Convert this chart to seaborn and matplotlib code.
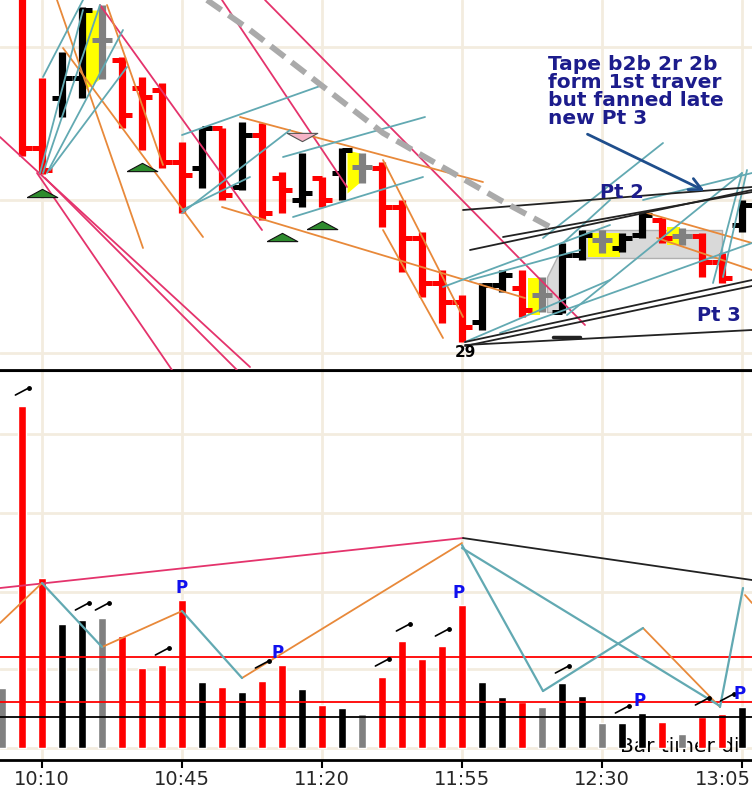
import numpy as np
import pandas as pd
import seaborn as sns
import matplotlib.pyplot as plt
from matplotlib.transforms import ScaledTranslation

# 5-minute bars, slot 0 = 10:00
slots = np.arange(38)
bar_colour = ['gray', 'red', 'red', 'black', 'black', 'gray', 'red', 'red', 'red', 'red',
              'black', 'red', 'black', 'red', 'red', 'black', 'red', 'black', 'gray', 'red',
              'red', 'red', 'red', 'red', 'black', 'black', 'red', 'gray', 'black', 'black',
              'gray', 'black', 'black', 'red', 'gray', 'red', 'red', 'black']

# price in ticks
high = [430, 410, 292, 318, 363, 365, 313, 293, 287, 228, 242, 242, 248, 247, 198, 217, 193, 222, 217, 208,
        170, 138, 100, 75, 87, 100, 100, 93, 127, 140, 140, 137, 158, 152, 142, 137, 117, 170]
low = [380, 214, 196, 253, 272, 291, 242, 220, 202, 157, 182, 170, 180, 150, 157, 163, 163, 170, 187, 143,
       98, 73, 47, 28, 40, 78, 53, 58, 57, 110, 117, 118, 132, 127, 125, 93, 87, 138]
opens = [405, 400, 222, 272, 292, 330, 310, 282, 280, 208, 202, 242, 183, 235, 192, 170, 192, 197, 203, 202,
         163, 132, 87, 68, 48, 85, 82, 75, 58, 115, 130, 122, 135, 150, 134, 134, 108, 145]
closes = [405, 222, 200, 292, 360, 330, 255, 273, 208, 195, 242, 175, 235, 157, 180, 177, 170, 220, 203, 163,
          132, 87, 68, 43, 85, 95, 60, 75, 115, 135, 130, 132, 155, 132, 134, 108, 92, 165]

volume = [60, 342, 170, 124, 128, 130, 112, 80, 83, 148, 66, 61, 56, 67, 83, 59, 43, 40, 34, 71,
          107, 89, 102, 143, 66, 51, 46, 41, 65, 52, 25, 25, 35, 26, 14, 31, 34, 41]

time_ticks = [2, 9, 16, 23, 30, 37]
time_labels = ['10:10', '10:45', '11:20', '11:55', '12:30', '13:05']
price_grid = [17, 170, 323]
volume_grid = [0, 79, 156, 235, 314]

# trendlines on price panel: (slot0, price0, slot1, price1)
pink_lines = [(-0.1, 233, 12.4, 3), (1.75, 197, 8.5, 0), (2.15, 192, 11.75, 0),
              (4.9, 365, 13, 140), (11, 370, 17.25, 183), (13.15, 370, 29.15, 45)]
orange_lines = [(2.75, 370, 7.05, 122), (3.05, 322, 10.05, 133), (5.25, 365, 8.05, 205),
                (11.9, 253, 24.05, 188), (11, 163, 26.15, 72), (19.05, 210, 23.05, 53),
                (19.05, 140, 22.05, 32), (32.25, 157, 37.5, 127), (32.75, 132, 37.5, 100)]
teal_lines = [(1.9, 197, 4.05, 360), (2.05, 197, 4.9, 365), (2.25, 197, 6.05, 340), (2.4, 200, 6.25, 303),
              (2.05, 293, 4.05, 370), (9, 235, 16.05, 285), (9, 157, 14.4, 240), (9, 160, 12.4, 193),
              (14.05, 213, 21.15, 253), (14.55, 153, 21.05, 193), (22.05, 83, 30.4, 145),
              (23.15, 28, 30.4, 90), (23.4, 90, 28.9, 120), (27.05, 132, 33.05, 227),
              (28.25, 55, 37, 197), (24.9, 37, 37.5, 127), (35.55, 87, 37, 197), (36.05, 93, 37.25, 200),
              (28.05, 127, 30.4, 170), (32.05, 170, 37.5, 197)]
black_lines = [(23.05, 160, 37.5, 183), (23.4, 120, 37.5, 180), (25.05, 133, 37.5, 178),
               (23.15, 28, 37.5, 90), (23.15, 24, 37.5, 84), (23.15, 25, 37.5, 40)]
dash_slot = [10.25, 12.4, 19.05, 24.9, 27.5]
dash_price = [370, 340, 237, 170, 142]

# shaded zones: (slot0, slot1, low0, low1, high0, high1)
yellow_zones = [(4.1, 4.95, 280, 292, 360, 360), (17.25, 17.9, 177, 188, 220, 217),
                (26.3, 26.9, 55, 55, 92, 92), (29.3, 30.9, 113, 113, 137, 137),
                (33.25, 33.9, 125, 125, 143, 143)]
gray_zones = [(27.25, 28.05, 58, 58, 93, 125), (29, 36, 112, 112, 140, 140)]

green_marks_slot = [2, 7, 14, 16]
green_marks_price = [177, 203, 133, 145]
pink_mark_slot = [15]
pink_mark_price = [233]

# volume panel zigzags
vol_pink = ([-0.1, 23.05], [160, 210])
vol_black = ([23.05, 37.5], [210, 168])
vol_orange = [(-0.1, 125, 2, 165), (5, 101, 9, 137), (12, 70, 23, 205),
              (32.05, 120, 35.9, 41), (37.15, 153, 37.5, 145)]
vol_teal = [(2, 165, 5, 101), (9, 137, 12, 70), (23, 203, 27.05, 57), (27.05, 57, 32.05, 120),
            (23, 200, 35.9, 42), (35.9, 41, 37.05, 160)]
red_levels = [91, 46]
black_levels = [31]
tick_slot = [1, 4, 5, 8, 13, 19, 20.05, 22, 28, 31, 35, 36.25]
tick_vol = [356, 141, 141, 96, 83, 85, 120, 115, 78, 38, 46, 50]
p_slot = [9, 13.8, 22.85, 31.9, 36.9]
p_vol = [160, 95, 155, 47, 54]

colour_map = {'red': '#ff0000', 'black': '#000000', 'gray': '#808080'}
PINK, ORANGE, TEAL = '#e4336c', '#e8893a', '#62a9b2'
GRID = '#f3ecdf'
NAVY = '#1c1c8c'

sns.set_theme(style='white')
plt.rcParams['font.family'] = ['DejaVu Sans']

fig = plt.figure(figsize=(7.52, 7.93), dpi=100)
ax1 = fig.add_axes([0, 0.5334, 1, 0.4666])
ax2 = fig.add_axes([0, 0.0416, 1, 0.4905])

# ---------- price panel ----------
for ax in (ax1, ax2):
    for t in time_ticks:
        ax.axvline(t, color=GRID, lw=2, zorder=0)
for g in price_grid:
    ax1.axhline(g, color=GRID, lw=2, zorder=0)

for s0, s1, l0, l1, h0, h1 in gray_zones:
    ax1.fill_between([s0, s1], [l0, l1], [h0, h1], color='#d9d9d9', ec='#b0b0b0', lw=1, zorder=1)
for s0, s1, l0, l1, h0, h1 in yellow_zones:
    ax1.fill_between([s0, s1], [l0, l1], [h0, h1], color='#ffff00', lw=0, zorder=1)

cols = [colour_map[c] for c in bar_colour]
ax1.vlines(slots, low, high, colors=cols, lw=5.2, zorder=2)
ax1.hlines(opens, slots - 0.5, slots, colors=cols, lw=3.6, zorder=2)
ax1.hlines(closes, slots, slots + 0.5, colors=cols, lw=3.6, zorder=2)

for group, colour in [(pink_lines, PINK), (orange_lines, ORANGE), (teal_lines, TEAL), (black_lines, '#222222')]:
    for s0, p0, s1, p1 in group:
        sns.lineplot(x=[s0, s1], y=[p0, p1], color=colour, lw=1.3, ax=ax1, zorder=3, sort=False)
ax1.plot([27.55, 28.9], [33, 33], color='#222222', lw=2.5, zorder=3)
ax1.plot(dash_slot, dash_price, color='#aaaaaa', lw=4.2, ls=(0, (3, 1.5)), zorder=3)

up_tri = [(-1, -0.27), (1, -0.27), (0, 0.27), (-1, -0.27)]
down_tri = [(-1, 0.27), (1, 0.27), (0, -0.27), (-1, 0.27)]
ax1.plot(green_marks_slot, green_marks_price, ls='none', marker=up_tri, ms=22,
         mfc='#2e8b2e', mec='#111111', mew=0.8, zorder=4)
ax1.plot(pink_mark_slot, pink_mark_price, ls='none', marker=down_tri, ms=22,
         mfc='#f6b3c6', mec='#555555', mew=0.8, zorder=4)

ax1.text(27.3, 315, 'Tape b2b 2r 2b\nform 1st traver\nbut fanned late\nnew Pt 3', ha='left', va='top',
         fontsize=14.5, fontweight='bold', color=NAVY, linespacing=0.93, zorder=5)
ax1.annotate('', xy=(35.25, 178), xytext=(29.15, 237),
             arrowprops=dict(arrowstyle='->', color='#1f4e8c', lw=2, mutation_scale=22), zorder=5)
ax1.text(29.9, 178, 'Pt 2', ha='left', va='center', fontsize=14, fontweight='bold', color=NAVY, zorder=5)
ax1.text(34.75, 55, 'Pt 3', ha='left', va='center', fontsize=14, fontweight='bold', color=NAVY, zorder=5)
ax1.text(23.15, 18, '29', ha='center', va='center', fontsize=11, fontweight='bold', color='black', zorder=5)

ax1.set_xlim(-0.1, 37.5)
ax1.set_ylim(0, 370)
ax1.set_xticks([])
ax1.set_yticks([])
for side in ['top', 'left', 'right']:
    ax1.spines[side].set_visible(False)
ax1.spines['bottom'].set_color('black')
ax1.spines['bottom'].set_linewidth(2)

# ---------- volume panel ----------
for g in volume_grid:
    ax2.axhline(g, color=GRID, lw=2, zorder=0)

vol_df = pd.DataFrame({'slot': slots, 'volume': volume, 'colour': bar_colour})
sns.barplot(data=vol_df, x='slot', y='volume', hue='colour', palette=colour_map, native_scale=True,
            width=0.36, dodge=False, saturation=1, legend=False, ax=ax2, zorder=2)

ax2.text(30.9, 2, 'Bar timer di', ha='left', va='center', fontsize=14.5, color='black', zorder=1)

for lv in red_levels:
    ax2.axhline(lv, color='#ff0000', lw=1.3, zorder=3)
for lv in black_levels:
    ax2.axhline(lv, color='black', lw=1.3, zorder=3)

ax2.plot(*vol_pink, color=PINK, lw=1.3, zorder=3)
ax2.plot(*vol_black, color='#222222', lw=1.3, zorder=3)
for s0, v0, s1, v1 in vol_orange:
    ax2.plot([s0, s1], [v0, v1], color=ORANGE, lw=1.3, zorder=3)
for s0, v0, s1, v1 in vol_teal:
    ax2.plot([s0, s1], [v0, v1], color=TEAL, lw=1.6, zorder=3)

for s, v in zip(tick_slot, tick_vol):
    ax2.plot([s - 0.33, s + 0.33], [v - 3, v + 4], color='black', lw=1.2, zorder=4)
    ax2.plot(s + 0.33, v + 4, marker='o', ms=2.5, color='black', zorder=4)
for s, v in zip(p_slot, p_vol):
    ax2.text(s, v, 'P', ha='center', va='center', fontsize=12, fontweight='bold', color='#1010ee', zorder=5)

ax2.set_xlim(-0.1, 37.5)
ax2.set_ylim(-12, 377)
ax2.set_xticks(time_ticks)
ax2.set_xticklabels(time_labels, fontsize=14)
ax2.set_yticks([])
ax2.set_xlabel('')
ax2.set_ylabel('')
ax2.tick_params(axis='x', direction='out', length=6, width=1.5, color='black', pad=1, bottom=True)
# last label sits at the right edge: keep it inside the figure
last = ax2.get_xticklabels()[-1]
last.set_ha('right')
last.set_transform(last.get_transform() + ScaledTranslation(9 / 100, 0, fig.dpi_scale_trans))
for side in ['left', 'right']:
    ax2.spines[side].set_visible(False)
ax2.spines['top'].set_color('black')
ax2.spines['top'].set_linewidth(1.5)
ax2.spines['bottom'].set_color('black')
ax2.spines['bottom'].set_linewidth(2)

fig.savefig('out.png', dpi=100)
